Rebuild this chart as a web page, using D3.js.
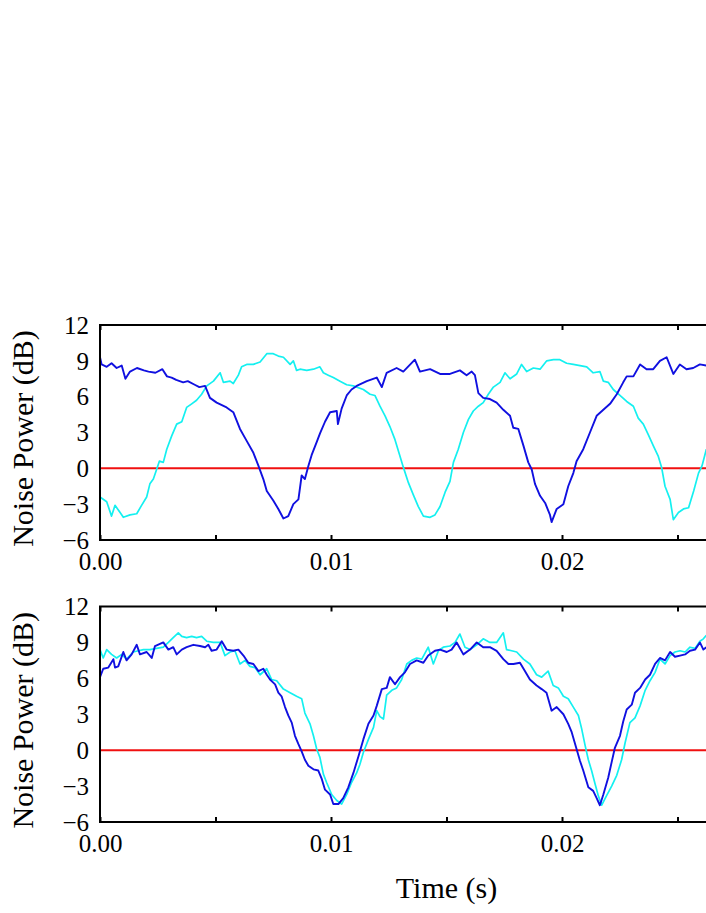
<!DOCTYPE html>
<html>
<head>
<meta charset="utf-8">
<script src="https://cdn.jsdelivr.net/npm/d3@7"></script>
<style>
  html, body { margin: 0; padding: 0; background: #fff; }
  svg { display: block; }
  text { font-family: "Liberation Serif", "Times New Roman", serif; fill: #000; }
</style>
</head>
<body>
<div id="chart"></div>
<script>
// ---- Data (time in s, noise power in dB) ----
const xTickValues = [0, 0.005, 0.01, 0.015, 0.02, 0.025, 0.03];
const xLabelValues = [0, 0.01, 0.02];
const yTickValues = [-6, -3, 0, 3, 6, 9, 12];
const xLabel = "Time (s)";
const yLabel = "Noise Power (dB)";

const topBlue = [[0,9.3],[0.00007,8.7],[0.00029,8.5],[0.0005,8.8],[0.00072,8.4],[0.00094,8.6],[0.0011,7.5],[0.0013,8.1],[0.0016,8.4],[0.0019,8.2],[0.0021,8.1],[0.0024,8.0],[0.0027,8.3],[0.0029,7.7],[0.0031,7.6],[0.0033,7.4],[0.0036,7.2],[0.0038,7.3],[0.0041,7.0],[0.0043,6.8],[0.00455,6.9],[0.00476,5.9],[0.00505,5.5],[0.00548,5.1],[0.00577,4.7],[0.00606,3.3],[0.00635,2.3],[0.00664,1.3],[0.00686,0.2],[0.00707,-0.9],[0.00722,-1.9],[0.0075,-2.7],[0.00772,-3.4],[0.00794,-4.2],[0.00815,-4.0],[0.00837,-3.0],[0.00859,-2.6],[0.00873,-0.6],[0.00887,-0.9],[0.00902,0.2],[0.00916,1.1],[0.00938,2.2],[0.00952,2.9],[0.00974,3.9],[0.00996,4.7],[0.01025,4.8],[0.0103,3.7],[0.01046,5.0],[0.01068,6.1],[0.01089,6.6],[0.01111,6.9],[0.01155,7.3],[0.01198,7.6],[0.0122,6.8],[0.01241,8.0],[0.01284,8.4],[0.01313,8.1],[0.01363,9.1],[0.01385,8.1],[0.01429,8.3],[0.01472,7.9],[0.01515,7.9],[0.01558,8.2],[0.01587,7.8],[0.01609,8.1],[0.01623,7.8],[0.01638,6.3],[0.01659,5.9],[0.01688,5.8],[0.01717,5.5],[0.01746,4.9],[0.01775,4.4],[0.01789,3.4],[0.01811,3.3],[0.01833,1.9],[0.01854,0.5],[0.01869,-0.1],[0.01883,-1.3],[0.01905,-2.3],[0.01927,-2.9],[0.01948,-3.9],[0.01955,-4.5],[0.01977,-3.4],[0.02006,-3.0],[0.02027,-1.5],[0.02049,-0.4],[0.02063,0.6],[0.02092,1.6],[0.02121,3.0],[0.0215,4.4],[0.02179,4.9],[0.02208,5.4],[0.02237,6.2],[0.02265,7.2],[0.0228,7.7],[0.02309,7.7],[0.02338,8.7],[0.02366,8.3],[0.02395,8.3],[0.02424,9.0],[0.02453,9.3],[0.02482,7.9],[0.0251,8.7],[0.02539,8.3],[0.02568,8.4],[0.02597,8.7],[0.02625,8.6]];

const topCyan = [[0,-2.4],[0.00029,-2.8],[0.0005,-4.0],[0.00065,-3.1],[0.00087,-3.7],[0.00101,-4.1],[0.0013,-3.9],[0.00159,-3.8],[0.0018,-3.1],[0.00202,-2.4],[0.00216,-1.3],[0.00231,-0.9],[0.00245,-0.1],[0.00257,0.6],[0.00274,0.5],[0.00289,1.6],[0.0031,2.7],[0.00332,3.7],[0.00354,3.9],[0.00375,5.1],[0.00397,5.4],[0.00418,5.7],[0.0044,6.2],[0.00462,6.9],[0.00491,7.3],[0.0052,8.0],[0.00534,7.2],[0.00563,7.3],[0.00577,7.1],[0.00599,7.8],[0.00613,8.5],[0.00635,8.7],[0.00664,8.7],[0.00693,8.9],[0.00722,9.6],[0.0075,9.6],[0.00772,9.4],[0.00794,9.3],[0.00823,8.7],[0.00837,9.0],[0.00851,8.2],[0.00866,8.3],[0.00895,8.2],[0.00924,8.3],[0.00938,8.4],[0.00952,8.5],[0.00967,8.0],[0.00988,7.8],[0.0101,7.6],[0.01039,7.3],[0.01068,7.0],[0.01097,6.9],[0.0114,6.6],[0.01169,6.2],[0.0119,6.1],[0.01212,5.2],[0.01234,4.4],[0.01255,3.5],[0.01277,2.4],[0.01299,1.0],[0.01313,0.1],[0.01335,-1.2],[0.01356,-2.2],[0.01378,-3.2],[0.014,-4.0],[0.01429,-4.1],[0.0145,-3.9],[0.01472,-3.2],[0.01494,-2.0],[0.01515,-1.1],[0.0153,0.5],[0.01551,1.6],[0.01573,3.0],[0.01595,4.1],[0.01616,4.8],[0.01638,5.2],[0.01659,5.5],[0.01681,6.2],[0.01703,6.8],[0.01732,7.2],[0.01753,8.0],[0.01775,7.5],[0.01804,7.9],[0.01825,8.7],[0.01847,8.1],[0.01876,8.4],[0.01905,8.3],[0.01934,9.0],[0.01963,9.1],[0.01991,9.1],[0.0202,8.8],[0.02049,8.7],[0.02078,8.6],[0.02107,8.5],[0.02135,8.0],[0.02164,8.1],[0.02179,7.3],[0.022,7.2],[0.02222,6.6],[0.02251,6.1],[0.0228,5.6],[0.02309,5.2],[0.0233,4.2],[0.02352,3.7],[0.02374,2.8],[0.02395,1.9],[0.02417,1.0],[0.02431,0.1],[0.02446,-1.5],[0.02468,-2.6],[0.02482,-4.3],[0.02504,-3.7],[0.02526,-3.4],[0.02548,-3.3],[0.0257,-1.9],[0.02591,-0.4],[0.02606,0.2],[0.02625,1.6]];

const bottomBlue = [[0,6.1],[0.00014,6.8],[0.00036,6.9],[0.00058,7.6],[0.00065,6.9],[0.00079,7.0],[0.00101,8.2],[0.00115,7.5],[0.00137,8.0],[0.00159,8.8],[0.00173,8.0],[0.00202,8.2],[0.00224,7.7],[0.00238,8.7],[0.00274,9.0],[0.00296,8.4],[0.00317,8.6],[0.00332,8.0],[0.00354,8.4],[0.00375,8.6],[0.00404,8.8],[0.00433,8.7],[0.00455,8.6],[0.00469,8.8],[0.00483,8.3],[0.00505,8.4],[0.00527,9.1],[0.00548,8.4],[0.00577,8.3],[0.00599,8.4],[0.00621,7.9],[0.00642,7.3],[0.00664,7.2],[0.00686,6.6],[0.00707,6.8],[0.00722,6.3],[0.00736,5.9],[0.00758,5.5],[0.00772,4.8],[0.00786,4.5],[0.00801,3.6],[0.00815,2.9],[0.0083,2.3],[0.00844,1.2],[0.00859,0.5],[0.00873,-0.1],[0.00887,-0.8],[0.00902,-1.3],[0.00924,-1.6],[0.00945,-1.7],[0.0096,-2.4],[0.00974,-3.3],[0.00996,-3.7],[0.0101,-4.5],[0.01032,-4.5],[0.01053,-4.0],[0.01075,-3.1],[0.01097,-1.9],[0.01119,-0.5],[0.0114,0.9],[0.01162,2.2],[0.01184,2.9],[0.01198,3.7],[0.0122,5.1],[0.01241,5.2],[0.01255,6.1],[0.01277,5.5],[0.01299,6.1],[0.0132,6.5],[0.01342,7.2],[0.01371,7.5],[0.014,7.3],[0.01421,7.9],[0.0145,8.3],[0.01472,8.4],[0.01501,8.2],[0.01522,8.4],[0.01544,9.0],[0.01573,8.0],[0.01602,8.4],[0.01631,9.0],[0.01659,8.6],[0.01688,8.6],[0.01717,8.3],[0.01746,7.6],[0.01768,7.2],[0.0179,7.2],[0.01818,7.3],[0.0184,6.6],[0.01861,5.9],[0.0189,5.4],[0.01912,5.1],[0.01933,4.8],[0.01955,3.3],[0.01977,3.6],[0.02006,3.0],[0.02027,2.2],[0.02042,1.5],[0.02063,0.1],[0.02078,-0.9],[0.02092,-1.7],[0.02114,-3.1],[0.02135,-3.4],[0.0215,-4.0],[0.02164,-4.6],[0.02179,-3.7],[0.022,-2.3],[0.02215,-1.0],[0.02229,0.2],[0.02251,1.2],[0.02265,2.4],[0.0228,3.4],[0.02302,3.8],[0.02316,4.8],[0.02338,5.2],[0.0236,5.9],[0.02381,6.3],[0.02403,7.2],[0.02424,7.7],[0.02446,7.5],[0.02468,8.2],[0.02489,7.8],[0.02511,7.9],[0.02533,8.0],[0.02554,8.3],[0.02576,8.4],[0.02597,9.0],[0.02612,8.4],[0.02625,8.6]];

const bottomCyan = [[0,8.4],[0.00014,7.7],[0.00029,8.4],[0.0005,8.0],[0.00072,7.7],[0.00094,8.0],[0.00115,7.6],[0.00144,8.2],[0.00166,8.3],[0.00188,8.4],[0.00216,8.4],[0.00245,8.5],[0.00274,8.6],[0.00296,9.0],[0.00317,9.4],[0.00339,9.8],[0.00354,9.5],[0.00375,9.4],[0.00397,9.5],[0.00418,9.4],[0.0044,9.5],[0.00462,9.1],[0.00491,9.0],[0.0052,9.0],[0.00541,7.9],[0.00563,8.2],[0.00584,8.3],[0.00606,7.2],[0.00628,7.5],[0.00649,7.0],[0.00671,6.9],[0.00693,6.3],[0.00722,6.8],[0.00743,5.9],[0.00765,5.8],[0.00794,5.1],[0.00823,4.8],[0.00851,4.5],[0.00873,4.3],[0.00887,3.1],[0.00909,2.2],[0.00924,1.2],[0.00938,0.1],[0.00952,-0.6],[0.00967,-2.0],[0.00981,-2.7],[0.01003,-3.7],[0.01025,-4.2],[0.01046,-4.5],[0.01068,-3.7],[0.01089,-2.7],[0.01111,-1.9],[0.01125,-1.2],[0.0114,-0.2],[0.01162,0.9],[0.01184,1.9],[0.01198,3.3],[0.01212,2.8],[0.01227,2.6],[0.01241,4.6],[0.01263,5.0],[0.01284,5.2],[0.01306,5.9],[0.01328,7.2],[0.01349,7.5],[0.01371,7.7],[0.01393,7.6],[0.01421,8.6],[0.01443,7.2],[0.01465,8.3],[0.01486,8.6],[0.01515,8.7],[0.01537,9.0],[0.01558,9.7],[0.0158,8.6],[0.01602,8.4],[0.01631,8.8],[0.01659,9.3],[0.01688,9.0],[0.01717,9.0],[0.01746,9.8],[0.0176,8.4],[0.01782,8.3],[0.01804,8.2],[0.01833,7.6],[0.01861,7.2],[0.0189,6.3],[0.01912,6.1],[0.0194,6.6],[0.01962,5.4],[0.01984,5.2],[0.02006,4.5],[0.02027,4.3],[0.02049,3.6],[0.02071,2.9],[0.02085,1.8],[0.021,0.4],[0.02114,-0.8],[0.02128,-1.7],[0.02143,-2.8],[0.02157,-3.8],[0.02172,-4.6],[0.02193,-3.8],[0.02215,-3.0],[0.02237,-2.1],[0.02258,-0.8],[0.02273,0.6],[0.02294,2.3],[0.02316,2.7],[0.02338,3.7],[0.0236,5.0],[0.02381,5.8],[0.02403,6.5],[0.02424,7.6],[0.02446,7.2],[0.02468,7.9],[0.02489,8.2],[0.02511,8.3],[0.02533,8.2],[0.02554,8.6],[0.02576,8.5],[0.02597,9.1],[0.02612,9.3],[0.02625,9.6]];

const zeroLine = [[0,0],[0.03,0]];

const panels = [
  { blue: topBlue, cyan: topCyan, top: 325, bottom: 540 },
  { blue: bottomBlue, cyan: bottomCyan, top: 606.5, bottom: 822 }
];

// ---- Drawing ----
const W = 706, H = 913;
const left = 100, right = 793;
const colBlue = "#1010e0", colCyan = "#14f0f0", colRed = "#f01010";

const svg = d3.select("#chart").append("svg").attr("width", W).attr("height", H);
const x = d3.scaleLinear().domain([0, 0.03]).range([left, right]);

panels.forEach((p, i) => {
  const y = d3.scaleLinear().domain([-6, 12]).range([p.bottom, p.top]);
  const g = svg.append("g");
  const line = d3.line().x(d => x(d[0])).y(d => y(d[1]));

  g.append("path").datum(zeroLine).attr("d", line)
    .attr("fill", "none").attr("stroke", colRed).attr("stroke-width", 2);
  g.append("path").datum(p.cyan).attr("d", line)
    .attr("fill", "none").attr("stroke", colCyan).attr("stroke-width", 1.7)
    .attr("stroke-linejoin", "round");
  g.append("path").datum(p.blue).attr("d", line)
    .attr("fill", "none").attr("stroke", colBlue).attr("stroke-width", 1.9)
    .attr("stroke-linejoin", "round");

  // frame
  g.append("rect").attr("x", left).attr("y", p.top)
    .attr("width", right - left).attr("height", p.bottom - p.top)
    .attr("fill", "none").attr("stroke", "#000").attr("stroke-width", 2);

  // inward ticks on bottom and top edges
  const xb = g.append("g").attr("transform", `translate(0,${p.bottom})`)
    .call(d3.axisTop(x).tickValues(xTickValues).tickSize(5).tickFormat(""));
  xb.select(".domain").remove();
  xb.selectAll("line").attr("stroke", "#000").attr("stroke-width", 2);

  const xt = g.append("g").attr("transform", `translate(0,${p.top})`)
    .call(d3.axisBottom(x).tickValues(xTickValues).tickSize(5).tickFormat(""));
  xt.select(".domain").remove();
  xt.selectAll("line").attr("stroke", "#000").attr("stroke-width", 2);

  const xl = g.append("g").attr("transform", `translate(0,${p.bottom})`)
    .call(d3.axisBottom(x).tickValues(xLabelValues).tickSize(0).tickPadding(0).tickFormat(d3.format(".2f")));
  xl.select(".domain").remove();
  xl.selectAll("text").attr("font-size", 25).attr("font-family", "Liberation Serif")
    .attr("y", 29.5).attr("dy", 0).attr("fill", "#000");

  const yl = g.append("g").attr("transform", `translate(${left},0)`)
    .call(d3.axisLeft(y).tickValues(yTickValues).tickSize(0).tickPadding(11).tickFormat(d3.format("d")));
  yl.select(".domain").remove();
  yl.selectAll("text").attr("font-size", 25).attr("font-family", "Liberation Serif")
    .attr("dy", "0.33em").attr("fill", "#000");

  svg.append("text")
    .attr("transform", `translate(33,${(p.top + p.bottom) / 2 + 6}) rotate(-90)`)
    .attr("text-anchor", "middle").attr("font-size", 30)
    .text(yLabel);
});

svg.append("text").attr("x", (left + right) / 2).attr("y", 898)
  .attr("text-anchor", "middle").attr("font-size", 30).text(xLabel);
</script>
</body>
</html>
